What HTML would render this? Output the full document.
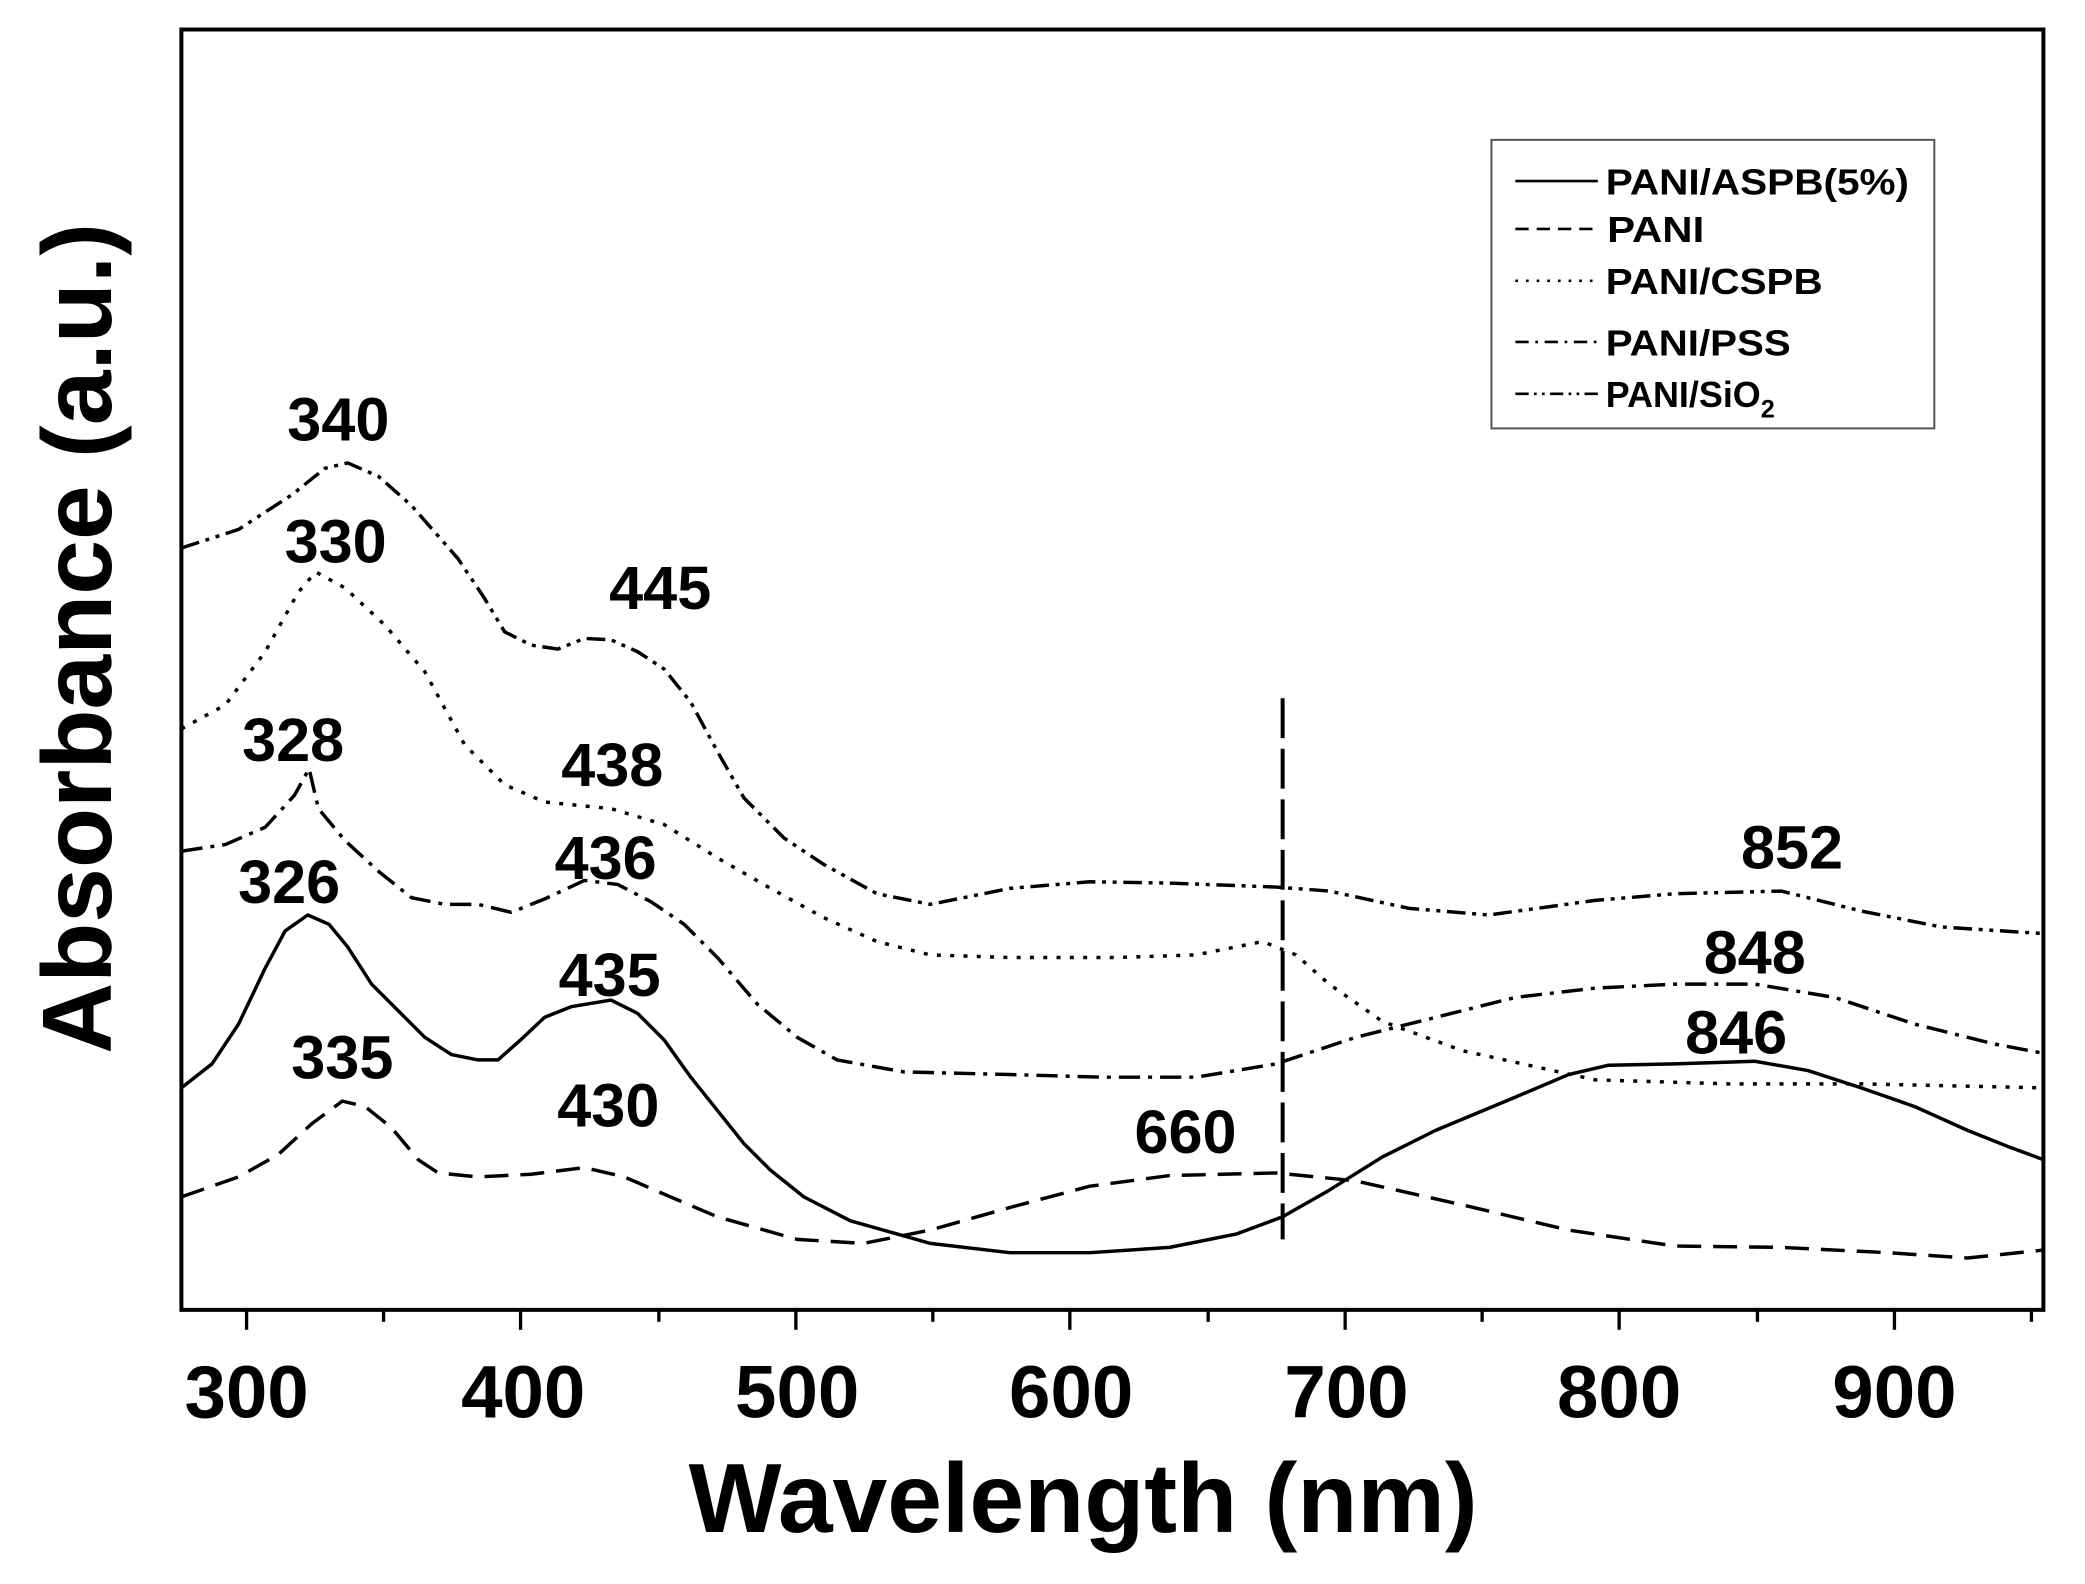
<!DOCTYPE html>
<html><head><meta charset="utf-8"><style>
html,body{margin:0;padding:0;background:#fff;}
svg{display:block;}
text{font-family:"Liberation Sans",Arial,sans-serif;font-weight:bold;fill:#000;}
</style></head><body>
<svg width="2085" height="1584" viewBox="0 0 1552 1179" preserveAspectRatio="none" xmlns="http://www.w3.org/2000/svg">
<rect width="1552" height="1179" fill="#fff"/>
<g transform="translate(-0.6,0.2) scale(0.99,0.9896)">
<rect x="137" y="22" width="1400" height="963" fill="none" stroke="#000" stroke-width="3"/>
<g stroke="#000" stroke-width="2.5">
<line x1="186" y1="985" x2="186" y2="1000"/><line x1="289" y1="985" x2="289" y2="994"/>
<line x1="392" y1="985" x2="392" y2="1000"/><line x1="496" y1="985" x2="496" y2="994"/>
<line x1="599" y1="985" x2="599" y2="1000"/><line x1="702" y1="985" x2="702" y2="994"/>
<line x1="805" y1="985" x2="805" y2="1000"/><line x1="909" y1="985" x2="909" y2="994"/>
<line x1="1012" y1="985" x2="1012" y2="1000"/><line x1="1115" y1="985" x2="1115" y2="994"/>
<line x1="1218" y1="985" x2="1218" y2="1000"/><line x1="1322" y1="985" x2="1322" y2="994"/>
<line x1="1425" y1="985" x2="1425" y2="1000"/><line x1="1528" y1="985" x2="1528" y2="994"/>
</g>
<g font-size="56" text-anchor="middle">
<text x="186" y="1066">300</text><text x="394" y="1066">400</text><text x="600" y="1066">500</text>
<text x="806" y="1066">600</text><text x="1013" y="1066">700</text><text x="1218" y="1066">800</text><text x="1425" y="1066">900</text>
</g>
<text x="815" y="1152" font-size="74" text-anchor="middle">Wavelength (nm)</text>
<text transform="translate(84,480) rotate(-90)" font-size="74" text-anchor="middle">Absorbance (a.u.)</text>
<g fill="none" stroke="#000" stroke-width="2.6" stroke-linejoin="round" stroke-linecap="butt">
<polyline stroke-dasharray="14,5,3,5,3,5" points="137,412 180,398 220,372 245,352 262,348 285,358 310,380 345,420 365,450 380,475 400,485 420,488 440,480 460,481 480,490 500,503 520,528 540,565 560,600 590,630 620,650 660,672 700,680 760,668 820,663 880,664 960,667 1000,670 1060,683 1120,688 1200,677 1260,672 1340,670 1400,685 1460,697 1537,702"/>
<polyline stroke-dasharray="3,7" points="137,548 170,530 200,490 225,445 238,430 260,442 290,470 320,505 350,560 380,590 410,603 460,608 500,620 540,645 580,668 620,690 660,708 700,718 760,720 840,720 900,718 950,708 975,718 1000,740 1040,768 1100,790 1200,812 1300,815 1400,815 1537,818"/>
<polyline stroke-dasharray="16,6,3,6" points="137,640 170,635 200,622 222,598 233,578 240,608 260,632 285,655 310,675 335,680 360,680 385,686 410,676 440,662 465,665 490,678 515,695 540,720 570,755 600,780 630,797 680,806 760,808 830,810 900,810 960,800 1020,780 1080,765 1140,750 1200,743 1260,740 1320,740 1380,750 1440,770 1500,785 1537,792"/>
<polyline points="137,818 160,800 180,770 200,728 215,700 232,688 248,695 262,712 280,740 300,760 320,780 340,793 360,797 375,797 392,782 410,765 430,757 460,752 480,762 500,782 520,810 540,835 560,860 580,880 605,900 640,918 700,935 760,942 820,942 880,938 930,928 965,915 1000,895 1040,870 1080,850 1140,825 1180,808 1210,801 1260,800 1320,798 1360,805 1400,818 1440,832 1480,850 1510,862 1537,872"/>
<polyline stroke-dasharray="18,9" points="137,900 180,885 210,868 235,845 258,828 275,832 295,848 315,872 330,882 360,885 400,883 440,878 470,885 500,898 540,915 600,932 650,935 700,925 760,908 820,892 880,884 960,882 1020,888 1100,906 1180,925 1260,937 1340,938 1420,942 1480,946 1537,940"/>
<line x1="965" y1="525" x2="965" y2="932" stroke-dasharray="30,8" stroke-width="3"/>
</g>
<g font-size="46" text-anchor="middle">
<text x="255" y="331">340</text><text x="253" y="423">330</text><text x="497" y="458">445</text>
<text x="221" y="572">328</text><text x="461" y="591">438</text><text x="456" y="661">436</text>
<text x="1348" y="653">852</text><text x="218" y="679">326</text><text x="459" y="749">435</text>
<text x="1320" y="732">848</text><text x="1306" y="792">846</text><text x="258" y="811">335</text>
<text x="458" y="847">430</text><text x="892" y="867">660</text>
</g>
<rect x="1122" y="105" width="333" height="217" fill="#fff" stroke="#555" stroke-width="1.5"/>
<g fill="none" stroke="#000" stroke-width="2">
<line x1="1140" y1="136" x2="1202" y2="136"/>
<line x1="1140" y1="172" x2="1202" y2="172" stroke-dasharray="10,6"/>
<line x1="1140" y1="211" x2="1202" y2="211" stroke-dasharray="2,6"/>
<line x1="1140" y1="257" x2="1202" y2="257" stroke-dasharray="10,5,2,5"/>
<line x1="1140" y1="296" x2="1202" y2="296" stroke-dasharray="10,4,2,4,2,4"/>
</g>
<g font-size="27">
<text x="1208" y="146" textLength="228" lengthAdjust="spacingAndGlyphs">PANI/ASPB(5%)</text>
<text x="1209" y="182" textLength="73" lengthAdjust="spacingAndGlyphs">PANI</text>
<text x="1208" y="221" textLength="163" lengthAdjust="spacingAndGlyphs">PANI/CSPB</text>
<text x="1208" y="267" textLength="139" lengthAdjust="spacingAndGlyphs">PANI/PSS</text>
<text x="1208" y="306">PANI/SiO<tspan font-size="19" dy="8">2</tspan></text>
</g>
</g>
</svg>
</body></html>
